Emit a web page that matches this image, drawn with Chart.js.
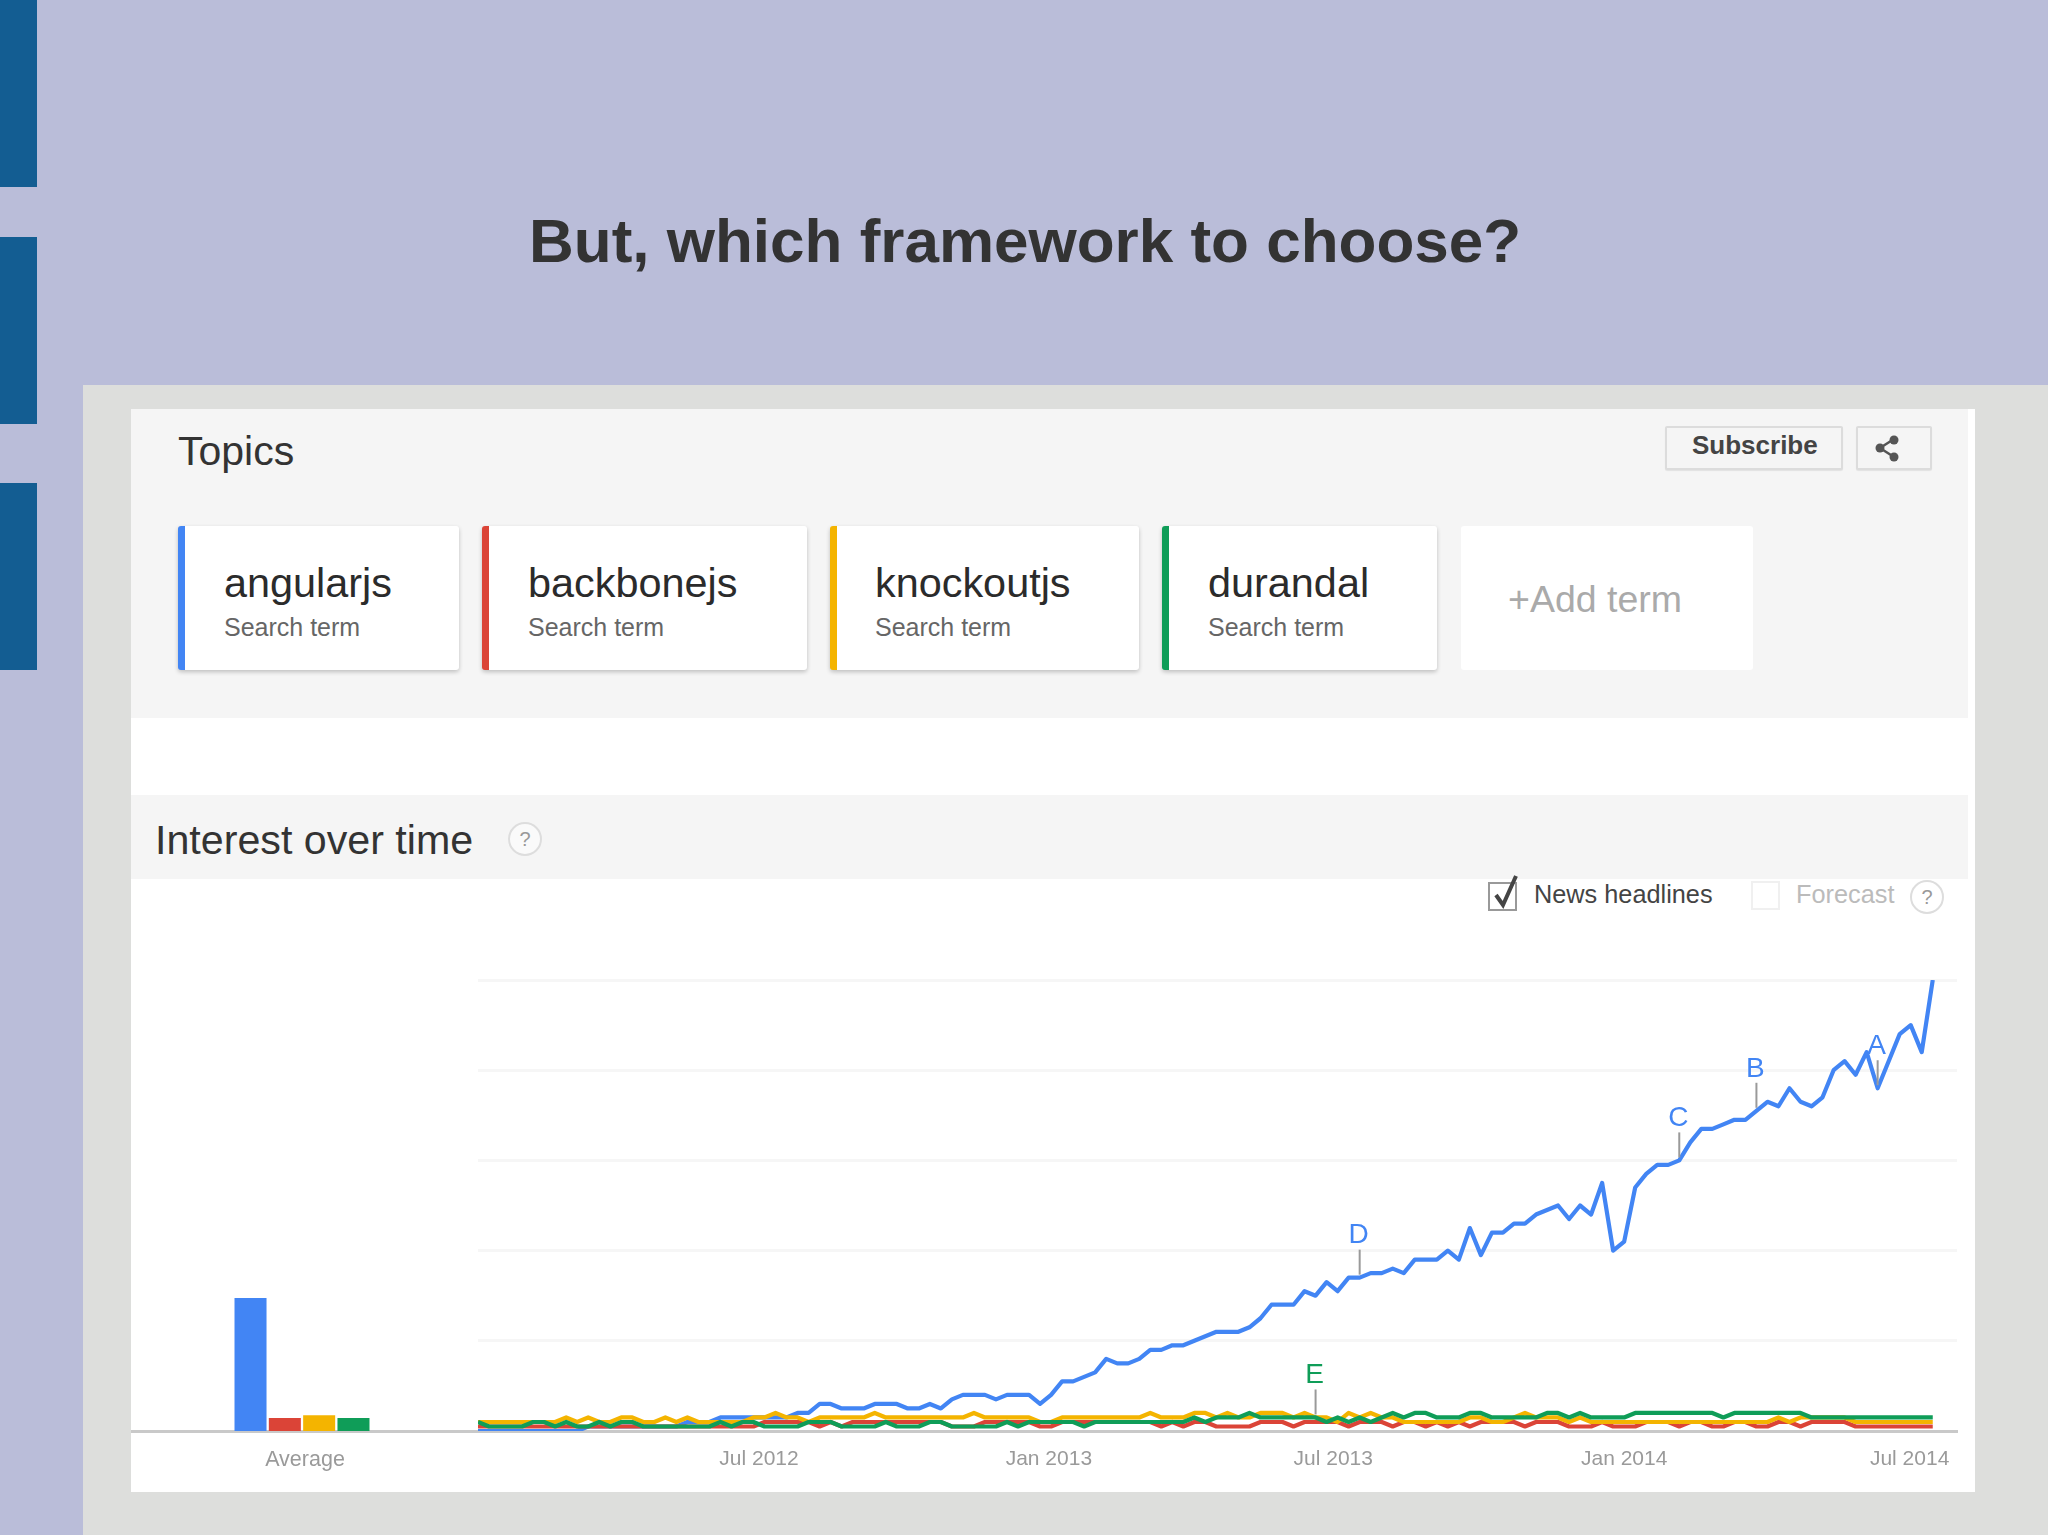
<!DOCTYPE html>
<html><head><meta charset="utf-8">
<script src="https://cdn.jsdelivr.net/npm/chart.js@4"></script>
<style>
html,body{margin:0;padding:0;background:#babdd9;}
#slide{position:relative;width:2048px;height:1535px;overflow:hidden;background:#babdd9;font-family:"Liberation Sans",Arial,sans-serif;}
.a{position:absolute;white-space:nowrap;}
.bar{position:absolute;left:0;width:37px;height:187px;background:#135d92;}
.card{position:absolute;top:526px;height:144px;background:#fff;border-radius:3px;box-shadow:0 2px 4px rgba(0,0,0,.22);box-sizing:border-box;border-left:7px solid;}
.name{position:absolute;font-size:41.4px;line-height:46px;color:#2b2b2b;top:560px;white-space:nowrap;}
.sub{position:absolute;font-size:25px;line-height:30px;color:#666;top:612px;white-space:nowrap;}
canvas{position:absolute;display:block;}
</style></head>
<body><div id="slide">
<div class="bar" style="top:0"></div><div class="bar" style="top:237px"></div><div class="bar" style="top:483px"></div>
<div class="a" style="left:529px;top:205px;font-size:62px;line-height:72px;font-weight:bold;color:#333;">But, which framework to choose?</div>

<div class="a" style="left:83px;top:385px;width:1965px;height:1150px;background:#dddedc;"></div>
<div class="a" style="left:131px;top:409px;width:1844px;height:1083px;background:#fff;"></div>
<div class="a" style="left:131px;top:409px;width:1837px;height:309px;background:#f5f5f5;"></div>
<div class="a" style="left:131px;top:795px;width:1837px;height:84px;background:#f5f5f5;"></div>

<div class="a" style="left:178px;top:428px;font-size:41px;line-height:46px;color:#333;">Topics</div>
<div class="a" style="left:1665px;top:426px;width:178px;height:44px;box-sizing:border-box;border:2px solid #dcdcdc;border-radius:2px;background:#f5f5f5;box-shadow:0 1px 1px rgba(0,0,0,.08);"></div>
<div class="a" style="left:1692px;top:430px;font-size:26px;line-height:30px;font-weight:bold;color:#444;">Subscribe</div>
<div class="a" style="left:1856px;top:426px;width:76px;height:44px;box-sizing:border-box;border:2px solid #dcdcdc;border-radius:2px;background:#f5f5f5;box-shadow:0 1px 1px rgba(0,0,0,.08);"></div>
<svg class="a" style="left:1874px;top:434px" width="28" height="28" viewBox="0 0 28 28"><path d="M20 5 L6 14 L20 23" fill="none" stroke="#555" stroke-width="2.5"/><circle cx="20" cy="6" r="4.5" fill="#555"/><circle cx="6" cy="14" r="4.5" fill="#555"/><circle cx="20" cy="23" r="4.5" fill="#555"/></svg>

<div class="card" style="left:178px;width:281px;border-left-color:#4285f4"></div>
<div class="card" style="left:482px;width:325px;border-left-color:#db4437"></div>
<div class="card" style="left:830px;width:309px;border-left-color:#f4b400"></div>
<div class="card" style="left:1162px;width:275px;border-left-color:#0f9d58"></div>
<div class="a" style="left:1461px;top:526px;width:292px;height:144px;background:#fff;border-radius:3px;"></div>
<div class="name" style="left:224px">angularjs</div><div class="sub" style="left:224px">Search term</div>
<div class="name" style="left:528px">backbonejs</div><div class="sub" style="left:528px">Search term</div>
<div class="name" style="left:875px">knockoutjs</div><div class="sub" style="left:875px">Search term</div>
<div class="name" style="left:1208px">durandal</div><div class="sub" style="left:1208px">Search term</div>
<div class="a" style="left:1508px;top:576px;font-size:37.5px;line-height:46px;color:#aaa;">+Add term</div>

<div class="a" style="left:155px;top:816px;font-size:41.2px;line-height:48px;color:#333;">Interest over time</div>
<div class="a" style="left:508px;top:822px;width:34px;height:34px;box-sizing:border-box;border:2px solid #ddd;border-radius:50%;text-align:center;font-size:20px;line-height:30px;color:#999;background:#fafafa;">?</div>

<svg class="a" style="left:1486px;top:874px" width="36" height="38" viewBox="0 0 36 38"><rect x="3" y="9" width="27" height="27" fill="#fff" stroke="#999" stroke-width="2"/><path d="M10 21 L17 31 L30 2" fill="none" stroke="#444" stroke-width="4"/></svg>
<div class="a" style="left:1534px;top:878px;font-size:25.3px;line-height:32px;color:#444;">News headlines</div>
<div class="a" style="left:1751px;top:881px;width:29px;height:29px;box-sizing:border-box;border:2px solid #f0f0f0;background:#fff;"></div>
<div class="a" style="left:1796px;top:878px;font-size:25.3px;line-height:32px;color:#bbb;">Forecast</div>
<div class="a" style="left:1910px;top:880px;width:34px;height:34px;box-sizing:border-box;border:2px solid #ddd;border-radius:50%;text-align:center;font-size:20px;line-height:30px;color:#999;background:#fff;">?</div>

<canvas id="avg" width="352" height="532" style="left:126px;top:960px;clip-path:inset(0 0 0 5px)"></canvas>
<canvas id="trend" width="1497" height="532" style="left:478px;top:960px"></canvas>
</div>
<script>
const termNames = ["angularjs","backbonejs","knockoutjs","durandal"];
const seriesColors = ["#4285f4","#db4437","#f4b400","#0f9d58"];
const averageLabels = ["Average"];
const averageValues = [29.5,2.9,3.5,2.9];

const angularjs = [
0,0,0,0,0,0,0,0,0,0,
1,1,1,1,1,1,1,1,1,2,
2,2,3,3,3,3,3,3,3,4,
4,6,6,5,5,5,6,6,6,5,
5,6,5,7,8,8,8,7,8,8,
8,6,8,11,11,12,13,16,15,15,
16,18,18,19,19,20,21,22,22,22,
23,25,28,28,28,31,30,33,31,34,
34,35,35,36,35,38,38,38,40,38,
45,39,44,44,46,46,48,49,50,47,
50,48,55,40,42,54,57,59,59,60,
64,67,67,68,69,69,71,73,72,76,
73,72,74,80,82,79,84,76,82,88,
90,84,100];
const backbonejs = [
1,1,1,1,1,1,1,1,1,1,
1,1,1,1,1,1,1,1,1,1,
1,1,1,1,1,1,2,2,2,2,
2,1,2,1,2,2,2,2,2,2,
2,2,2,1,1,1,2,2,2,2,
2,1,1,2,2,2,2,2,2,2,
2,2,1,2,1,2,2,1,1,1,
1,2,2,2,1,2,2,2,2,1,
2,2,2,1,2,2,1,2,1,2,
1,2,2,2,2,1,2,2,2,1,
1,1,2,1,1,1,2,2,2,1,
2,2,1,1,2,2,1,1,2,2,
1,2,2,2,2,1,1,1,1,1,
1,1,1];
const knockoutjs = [
2,2,2,2,2,2,2,2,3,2,
3,2,2,3,3,2,2,3,2,3,
2,2,2,2,2,3,3,4,3,3,
2,3,3,3,3,3,4,3,3,3,
3,3,3,3,3,4,3,3,3,3,
3,2,2,3,3,3,3,3,3,3,
3,4,3,3,3,4,4,3,4,3,
3,4,4,4,3,4,3,3,2,4,
3,4,3,3,2,2,2,2,2,2,
3,3,2,2,3,4,3,3,3,2,
3,2,2,2,2,2,2,2,2,2,
2,2,2,2,2,2,2,2,3,2,
3,3,3,3,3,2,2,2,2,2,
2,2,2];
const durandal = [
2,1,1,1,1,2,2,1,2,1,
1,2,1,2,2,1,1,1,1,1,
1,1,2,1,2,2,1,1,1,1,
2,2,2,1,1,1,1,2,1,1,
1,2,2,1,1,1,1,1,2,1,
2,2,2,2,2,1,2,2,2,2,
2,2,2,2,2,3,2,3,3,3,
4,3,3,3,3,3,3,2,3,2,
3,2,3,4,3,4,4,3,3,3,
4,4,3,3,3,3,3,4,4,3,
4,3,3,3,3,4,4,4,4,4,
4,4,4,3,4,4,4,4,4,4,
4,3,3,3,3,3,3,3,3,3,
3,3,3];
const trendSeries = [angularjs,backbonejs,knockoutjs,durandal];

const tickWeeks = [25.5,51.8,77.6,104,129.9];
const tickLabels = ["Jul 2012","Jan 2013","Jul 2013","Jan 2014","Jul 2014"];
const yTicks = [0,20,40,60,80,100];

const noteLetters = ["A","B","C","D","E"];
const noteWeeks = [127,116,109,80,76];
const noteSeries = [0,0,0,0,3];

const FONT = '"Liberation Sans", Arial, sans-serif';
const AXIS_COLOR = "#c9c9c9";
const LABEL_COLOR = "#9a9a9a";

function yScaleOptions(gridOn){
  return {
    min:0,max:100,display:true,
    border:{display:false},
    ticks:{display:false},
    grid:{display:gridOn,drawTicks:false,lineWidth:3,color:c=>c.tick.value===0?"rgba(0,0,0,0)":"#f6f6f6"},
    afterBuildTicks:s=>{s.ticks=yTicks.map(v=>({value:v}));},
    afterFit:s=>{s.width=0;}
  };
}
const xFit = s=>{s.height=61;s.paddingLeft=0;s.paddingRight=0;};

new Chart(document.getElementById("avg"),{
  type:"bar",
  data:{labels:averageLabels,datasets:termNames.map((n,k)=>({
    label:n,data:[averageValues[k]],backgroundColor:seriesColors[k],
    categoryPercentage:0.39,barPercentage:0.933}))},
  options:{responsive:false,animation:false,
    layout:{padding:{top:20,left:0,right:0,bottom:0}},
    plugins:{legend:{display:false},tooltip:{enabled:false}},
    scales:{
      x:{border:{display:true,color:AXIS_COLOR,width:3},grid:{display:false},
        ticks:{color:LABEL_COLOR,font:{family:FONT,size:21.5},padding:8,maxRotation:0,labelOffset:3},afterFit:xFit},
      y:yScaleOptions(false)
    }}
});

const notePlugin={id:"notes",afterDatasetsDraw(chart){
  const {ctx,scales:{x,y}}=chart;
  ctx.save();
  noteLetters.forEach((t,k)=>{
    const w=noteWeeks[k],s=noteSeries[k];
    const px=x.getPixelForValue(w),py=y.getPixelForValue(trendSeries[s][w]);
    ctx.strokeStyle="#9a9a9a";ctx.lineWidth=2;
    ctx.beginPath();ctx.moveTo(px,py-3);ctx.lineTo(px,py-28);ctx.stroke();
    ctx.fillStyle=seriesColors[s];
    ctx.font='28px '+FONT;ctx.textAlign="center";ctx.textBaseline="middle";
    ctx.fillText(t,px-1,py-42);
  });
  ctx.restore();
}};

new Chart(document.getElementById("trend"),{
  type:"line",
  data:{datasets:termNames.map((n,k)=>({
    label:n,data:trendSeries[k].map((v,i)=>({x:i,y:v})),
    order:termNames.length-k,
    borderColor:seriesColors[k],borderWidth:4.2,pointRadius:0,tension:0,
    borderJoinStyle:"round",fill:false}))},
  options:{responsive:false,animation:false,parsing:true,
    layout:{padding:{top:20,left:0,right:18,bottom:0}},
    plugins:{legend:{display:false},tooltip:{enabled:false}},
    scales:{
      x:{type:"linear",min:0,max:134.2,
        border:{display:true,color:AXIS_COLOR,width:3},grid:{display:false},
        afterBuildTicks:s=>{s.ticks=tickWeeks.map(v=>({value:v}));},
        ticks:{autoSkip:false,maxRotation:0,color:LABEL_COLOR,font:{family:FONT,size:21},padding:8,
          callback:v=>tickLabels[tickWeeks.indexOf(v)]},
        afterFit:xFit},
      y:yScaleOptions(true)
    }},
  plugins:[notePlugin]
});
</script>
</body></html>
